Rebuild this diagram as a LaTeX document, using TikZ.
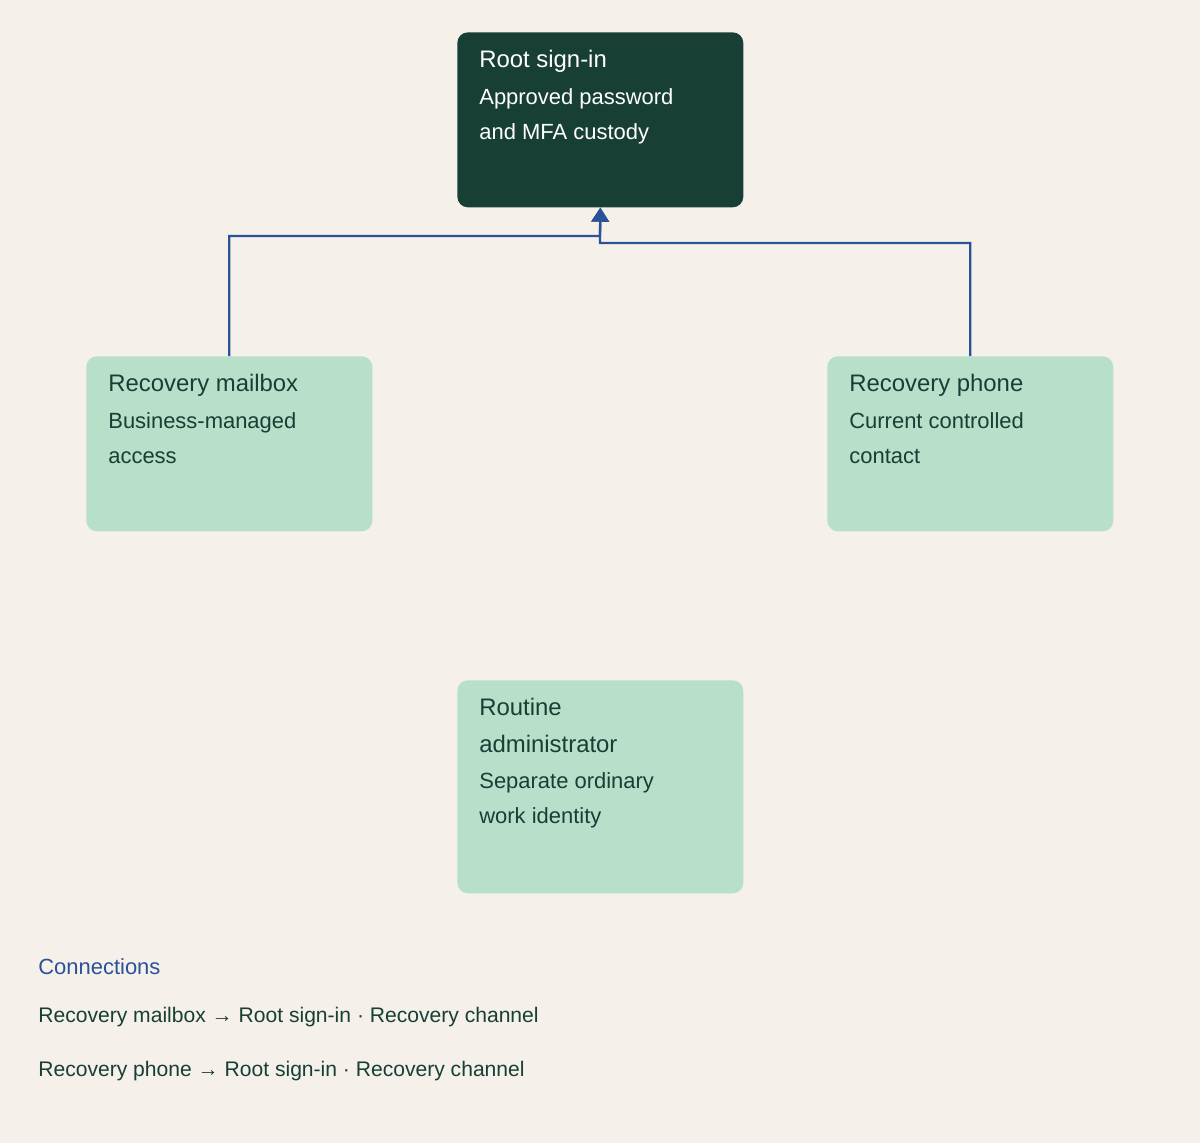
\documentclass[tikz,border=0pt]{standalone}
\usepackage{fontspec}
\setmainfont{Liberation Sans}
\usetikzlibrary{arrows.meta}
\definecolor{bgcol}{HTML}{F5F1EA}
\definecolor{darkcol}{HTML}{173F35}
\definecolor{lightcol}{HTML}{B8DFC9}
\definecolor{linkcol}{HTML}{2A5298}
\tikzset{
  card/.style={rounded corners=6pt, inner sep=0pt, anchor=north west},
  cardtext/.style={anchor=north west, align=left, inner sep=0pt, font=\fontsize{12.5pt}{19.8pt}\selectfont},
  link/.style={draw=linkcol, line width=1.3pt, -{Triangle[length=8pt,width=10pt]}}
}
\newcommand{\cardtitle}[1]{{\fontsize{13.6pt}{21.5pt}\selectfont #1}\\[1pt]}
\begin{document}
\begin{tikzpicture}[x=0.02cm,y=-0.02cm]
%background
\fill[bgcol] (0,0) rectangle (1200,1143);
\useasboundingbox (0,0) rectangle (1200,1143);
%cards
\node[card, fill=darkcol, minimum width=5.72cm, minimum height=3.5cm] (root) at (457,32) {};
\node[card, fill=lightcol, minimum width=5.72cm, minimum height=3.5cm] (mail) at (86,356) {};
\node[card, fill=lightcol, minimum width=5.72cm, minimum height=3.5cm] (phone) at (827,356) {};
\node[card, fill=lightcol, minimum width=5.72cm, minimum height=4.26cm] (admin) at (457,680) {};
%card texts
\node[cardtext, text=white] (roottxt) at (479,50) {\cardtitle{Root sign-in}Approved password\\and MFA custody};
\node[cardtext, text=darkcol] (mailtxt) at (108,374) {\cardtitle{Recovery mailbox}Business-managed\\access};
\node[cardtext, text=darkcol] (phonetxt) at (849,374) {\cardtitle{Recovery phone}Current controlled\\contact};
\node[cardtext, text=darkcol] (admintxt) at (479,698) {\cardtitle{Routine}\cardtitle{administrator}Separate ordinary\\work identity};
%connectors
\draw[link] (mail.north) |- (600,236) -- (root.south);
\draw[link] (phone.north) |- (600,243) -- (root.south);
%legend
\node[anchor=base west, inner sep=0pt, text=linkcol, font=\fontsize{12.5pt}{15pt}\selectfont] (legtitle) at (38,974) {Connections};
\node[anchor=base west, inner sep=0pt, text=darkcol, font=\fontsize{12pt}{15pt}\selectfont] (leg1) at (38,1022) {Recovery mailbox → Root sign-in · Recovery channel};
\node[anchor=base west, inner sep=0pt, text=darkcol, font=\fontsize{12pt}{15pt}\selectfont] (leg2) at (38,1076) {Recovery phone → Root sign-in · Recovery channel};
\end{tikzpicture}
\end{document}
